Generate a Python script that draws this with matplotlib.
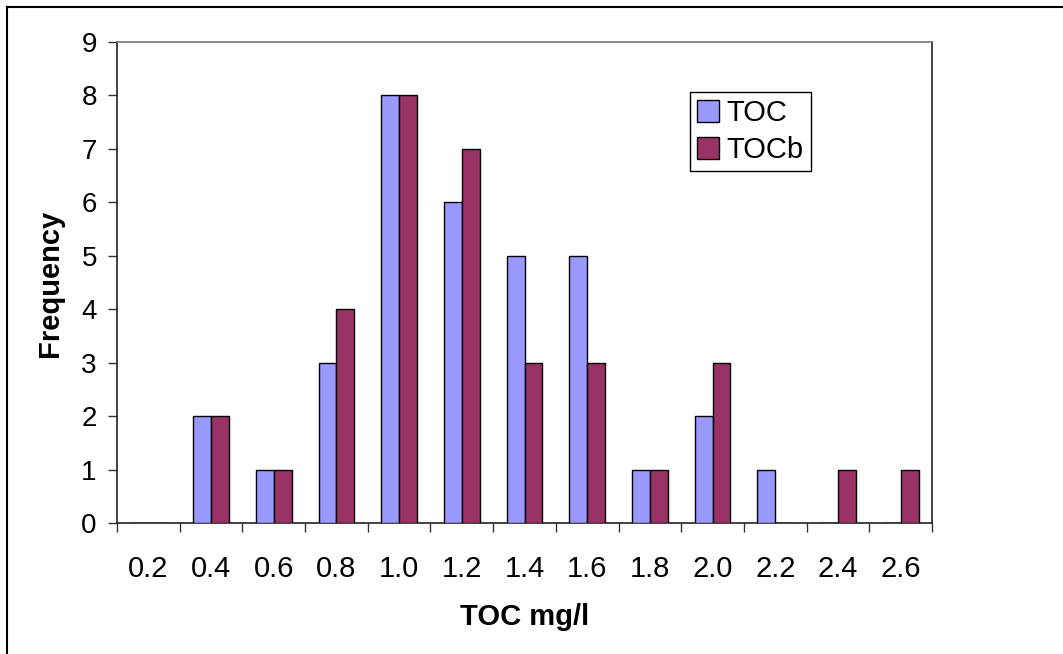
import matplotlib
matplotlib.use("Agg")
import matplotlib.pyplot as plt
from matplotlib.lines import Line2D
import numpy as np

categories = ["0.2", "0.4", "0.6", "0.8", "1.0", "1.2", "1.4", "1.6", "1.8", "2.0", "2.2", "2.4", "2.6"]
toc = [0, 2, 1, 3, 8, 6, 5, 5, 1, 2, 1, 0, 0]
tocb = [0, 2, 1, 4, 8, 7, 3, 3, 1, 3, 0, 1, 1]
series_names = ["TOC", "TOCb"]
y_ticks = list(range(0, 10))

plt.rcParams['font.family'] = ['Liberation Sans', 'DejaVu Sans']

W, H = 1063, 654
fig = plt.figure(figsize=(W / 100, H / 100), dpi=100)
ax = fig.add_axes([117 / W, 1 - 523 / H, (932 - 117) / W, (523 - 42) / H])

n = len(categories)
x = np.arange(n)
bw = 1 / 3.5
ax.bar(x + 0.5 - bw / 2, toc, width=bw, color="#9999FF", edgecolor="black", linewidth=1.0, label=series_names[0], zorder=3)
ax.bar(x + 0.5 + bw / 2, tocb, width=bw, color="#993366", edgecolor="black", linewidth=1.0, label=series_names[1], zorder=3)

ax.set_xlim(0, n)
ax.set_ylim(0, 9)
ax.set_yticks(y_ticks)
ax.set_yticklabels([str(v) for v in y_ticks], fontsize=20)
ax.set_xticks(np.arange(n + 1))
ax.set_xticklabels([])
ax.set_xticks(x + 0.5, minor=True)
ax.set_xticklabels(categories, minor=True, fontsize=21)
ax.tick_params(axis='x', which='major', direction='out', length=6.5, width=1, color='#333333')
ax.tick_params(axis='x', which='minor', length=0, pad=23)
ax.tick_params(axis='y', direction='out', length=6.5, width=1, pad=8, color='#333333')

for s in ['left', 'bottom', 'right']:
    ax.spines[s].set_color('#222222')
    ax.spines[s].set_linewidth(1.2)
ax.spines['top'].set_color('#777777')
ax.spines['top'].set_linewidth(1.2)

ax.set_xlabel("TOC mg/l", fontsize=21, fontweight='bold')
ax.xaxis.set_label_coords((525 - 117) / (932 - 117), (523 - 617) / (523 - 42), transform=ax.transAxes)
ax.set_ylabel("Frequency", fontsize=21, fontweight='bold')
ax.yaxis.set_label_coords((50 - 117) / (932 - 117), (523 - 283) / (523 - 42), transform=ax.transAxes)
ax.xaxis.label.set_va('center')
ax.yaxis.label.set_va('center')

leg = ax.legend(loc='upper left', bbox_to_anchor=((690 - 117) / (932 - 117), (523 - 92) / (523 - 42)),
                fontsize=21, frameon=True, fancybox=False, edgecolor='black', framealpha=1,
                handlelength=0.75, handleheight=0.75, handletextpad=0.25, borderpad=0.25,
                labelspacing=0.3, borderaxespad=0)
leg.get_frame().set_linewidth(1.0)

# outer chart border (top and left visible)
fig.add_artist(Line2D([7 / W, 7 / W], [0, 1 - 7 / H], transform=fig.transFigure, color='black', linewidth=1.5))
fig.add_artist(Line2D([7 / W, 1], [1 - 7 / H, 1 - 7 / H], transform=fig.transFigure, color='black', linewidth=1.5))

fig.savefig("out.png", dpi=100, facecolor='white')
